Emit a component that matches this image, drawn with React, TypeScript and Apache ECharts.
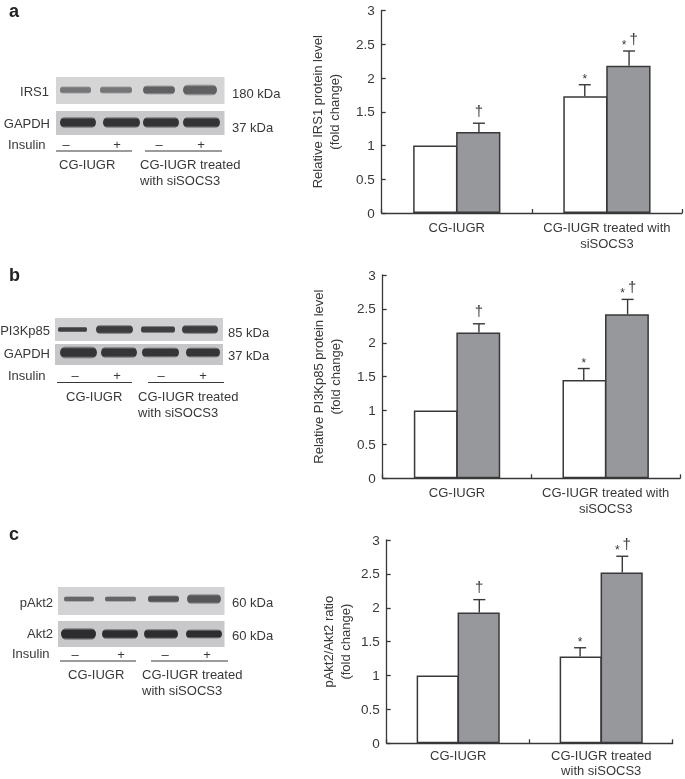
import React, { useEffect, useRef } from "react";
import * as echarts from "echarts";

const categoriesAB = ["CG-IUGR", "CG-IUGR treated with\nsiSOCS3"];
const categoriesC = ["CG-IUGR", "CG-IUGR treated\nwith siSOCS3"];
const yTicks = [0, 0.5, 1, 1.5, 2, 2.5, 3];

const noInsulinA = [1, 1.73];
const insulinA = [1.2, 2.18];
const noInsulinErrA = [0, 0.17];
const insulinErrA = [0.13, 0.22];

const noInsulinB = [1, 1.45];
const insulinB = [2.15, 2.42];
const noInsulinErrB = [0, 0.17];
const insulinErrB = [0.13, 0.22];

const noInsulinC = [1, 1.28];
const insulinC = [1.93, 2.52];
const noInsulinErrC = [0, 0.13];
const insulinErrC = [0.19, 0.24];

const noInsulinMarks = [[], ["*"]];
const insulinMarks = [["†"], ["*", "†"]];

const yNameA = "Relative IRS1 protein level\n(fold change)";
const yNameB = "Relative PI3Kp85 protein level\n(fold change)";
const yNameC = "pAkt2/Akt2 ratio\n(fold change)";

const FONT = "Liberation Sans, Arial, sans-serif";
const INK = "#38383a";
const GRAY = "#97989c";
const BAR_FRACTION = 0.295;

type Panel = {
  rect: { left: number; top: number; right: number; bottom: number };
  categories: string[];
  white: number[];
  gray: number[];
  whiteErr: number[];
  grayErr: number[];
  yName: string;
  nameGap: number;
  labelMargin: number;
  labelLine: number;
};

const W = 685;
const H = 779;

const panels: Panel[] = [
  { rect: { left: 381.7, top: 10.5, right: 682, bottom: 213 }, categories: categoriesAB, white: noInsulinA, gray: insulinA, whiteErr: noInsulinErrA, grayErr: insulinErrA, yName: yNameA, nameGap: 39, labelMargin: 6, labelLine: 16 },
  { rect: { left: 382.7, top: 275, right: 680, bottom: 478.3 }, categories: categoriesAB, white: noInsulinB, gray: insulinB, whiteErr: noInsulinErrB, grayErr: insulinErrB, yName: yNameB, nameGap: 39, labelMargin: 6, labelLine: 16 },
  { rect: { left: 386.7, top: 540, right: 672.7, bottom: 743.3 }, categories: categoriesC, white: noInsulinC, gray: insulinC, whiteErr: noInsulinErrC, grayErr: insulinErrC, yName: yNameC, nameGap: 33, labelMargin: 5, labelLine: 15 },
];

function errorSeries(gi: number, values: number[], errs: number[], marks: string[][], sign: number) {
  return {
    type: "custom",
    xAxisIndex: gi,
    yAxisIndex: gi,
    silent: true,
    z: 5,
    data: values.map((v, i) => [i, v, errs[i]]),
    renderItem: (params: any, api: any) => {
      const i = api.value(0);
      const v = api.value(1);
      const e = api.value(2);
      const band = api.size([1, 0])[0];
      const base = api.coord([i, v]);
      const top = api.coord([i, v + e]);
      const x = base[0] + (sign * band * BAR_FRACTION) / 2;
      const children: any[] = [];
      const lineStyle = { stroke: INK, lineWidth: 1.4, fill: "none" };
      if (e > 0) {
        children.push({ type: "line", shape: { x1: x, y1: base[1], x2: x, y2: top[1] }, style: lineStyle });
        children.push({ type: "line", shape: { x1: x - 6, y1: top[1], x2: x + 6, y2: top[1] }, style: lineStyle });
      }
      const m = marks[params.dataIndex] || [];
      m.forEach((s) => {
        const dx = m.length > 1 ? (s === "*" ? -5 : 4.5) : 0;
        const dy = s === "*" ? -6 : -13;
        const size = s === "*" ? 12 : 15;
        children.push({
          type: "text",
          x: x + dx,
          y: top[1] + dy,
          style: { text: s, fill: INK, font: `${size}px ${FONT}`, textAlign: "center", textVerticalAlign: "middle" },
        });
      });
      return { type: "group", children };
    },
  };
}

// ---- western-blot drawing ----
type Blot = {
  box: [number, number, number, number];
  bg: string;
  cy: number;
  bands: [number, number, number, string][];
};

const blots: Blot[] = [
  { box: [56, 77, 224.5, 104], bg: "#d5d5d6", cy: 90, bands: [[60, 91, 8, "#767678"], [100, 132, 8, "#767678"], [143, 175, 10, "#606062"], [183, 217, 12, "#606062"]] },
  { box: [56, 111, 224.5, 135], bg: "#c8c8ca", cy: 122.5, bands: [[60, 96, 12, "#333335"], [103, 140, 12, "#333335"], [143, 179, 12, "#333335"], [183, 220, 12, "#333335"]] },
  { box: [55, 318, 223, 341], bg: "#d0d0d2", cy: 329.5, bands: [[58, 87, 6, "#3f3f41"], [96, 133, 10, "#3c3c3e"], [141, 175, 8, "#3f3f41"], [182, 218, 10, "#3c3c3e"]] },
  { box: [55, 344, 223, 365], bg: "#c6c6c8", cy: 352.5, bands: [[60, 97, 13, "#353537"], [101, 137, 12, "#353537"], [142, 179, 11, "#353537"], [186, 220, 11, "#353537"]] },
  { box: [58, 587, 224.5, 615], bg: "#d3d3d5", cy: 599, bands: [[64, 94, 6, "#666668"], [105, 136, 6, "#666668"], [148, 179, 8, "#535355"], [187, 221, 11, "#565658"]] },
  { box: [58, 621, 224.5, 647], bg: "#c8c8ca", cy: 634, bands: [[61, 96, 13, "#2d2d2f"], [102, 138, 11, "#2d2d2f"], [144, 178, 11, "#2d2d2f"], [186, 222, 10, "#2d2d2f"]] },
];

type Lbl = [string, number, number, "left" | "right" | "center"];
const labels: Lbl[] = [
  ["IRS1", 49, 91, "right"], ["GAPDH", 50, 123, "right"], ["180 kDa", 232, 93, "left"], ["37 kDa", 232, 127, "left"],
  ["Insulin", 8, 144, "left"], ["–", 66, 144, "center"], ["+", 117, 144, "center"], ["–", 159, 144, "center"], ["+", 201, 144, "center"],
  ["CG-IUGR", 59, 164, "left"], ["CG-IUGR treated", 140, 164, "left"], ["with siSOCS3", 140, 180, "left"],
  ["PI3Kp85", 50, 330, "right"], ["GAPDH", 50, 353, "right"], ["85 kDa", 228, 332, "left"], ["37 kDa", 228, 355, "left"],
  ["Insulin", 8, 375, "left"], ["–", 75, 375, "center"], ["+", 117, 375, "center"], ["–", 161, 375, "center"], ["+", 203, 375, "center"],
  ["CG-IUGR", 66, 396, "left"], ["CG-IUGR treated", 138, 396, "left"], ["with siSOCS3", 138, 412, "left"],
  ["pAkt2", 53, 602, "right"], ["Akt2", 53, 633, "right"], ["60 kDa", 232, 602, "left"], ["60 kDa", 232, 635, "left"],
  ["Insulin", 12, 653, "left"], ["–", 75, 654, "center"], ["+", 121, 654, "center"], ["–", 165, 654, "center"], ["+", 207, 654, "center"],
  ["CG-IUGR", 68, 674, "left"], ["CG-IUGR treated", 142, 674, "left"], ["with siSOCS3", 142, 690, "left"],
];

const rules: [number, number, number][] = [
  [56, 132, 151], [145, 222, 151], [57, 132, 382.5], [148, 224, 382.5], [60, 136, 661], [151, 228, 661],
];

const panelLetters: [string, number, number][] = [["a", 9, 11], ["b", 9, 275], ["c", 9, 534]];

function blotGraphics() {
  const out: any[] = [];
  blots.forEach((b) => {
    const [x0, y0, x1, y1] = b.box;
    out.push({ type: "rect", shape: { x: x0, y: y0, width: x1 - x0, height: y1 - y0 }, style: { fill: b.bg } });
    b.bands.forEach(([a, c, t, col]) => {
      out.push({
        type: "rect",
        shape: { x: a, y: b.cy - t / 2, width: c - a, height: t, r: t / 2 },
        style: {
          fill: {
            type: "linear",
            x: 0,
            y: 0,
            x2: 0,
            y2: 1,
            colorStops: [
              { offset: 0, color: b.bg },
              { offset: 0.22, color: col },
              { offset: 0.78, color: col },
              { offset: 1, color: b.bg },
            ],
          },
        },
      });
    });
  });
  labels.forEach(([text, x, y, align]) => {
    out.push({ type: "text", x, y, style: { text, fill: INK, font: `13px ${FONT}`, textAlign: align, textVerticalAlign: "middle" } });
  });
  rules.forEach(([a, c, y]) => {
    out.push({ type: "line", shape: { x1: a, y1: y, x2: c, y2: y }, style: { stroke: INK, lineWidth: 1.2 } });
  });
  panelLetters.forEach(([text, x, y]) => {
    out.push({ type: "text", x, y, style: { text, fill: "#222", font: `bold 18px ${FONT}`, textAlign: "left", textVerticalAlign: "middle" } });
  });
  return out;
}

export default function App() {
  const ref = useRef<HTMLDivElement>(null);
  useEffect(() => {
    const chart = echarts.init(ref.current!, undefined, { renderer: "svg" });
    const axisLine = { show: true, onZero: false, lineStyle: { color: INK, width: 1.3 } };
    const axisTick = { show: true, inside: true, length: 4, lineStyle: { color: INK, width: 1.3 } };
    const option: any = {
      animation: false,
      backgroundColor: "#fff",
      grid: panels.map((p) => ({
        left: p.rect.left,
        top: p.rect.top,
        width: p.rect.right - p.rect.left,
        height: p.rect.bottom - p.rect.top,
        containLabel: false,
        outerBoundsMode: "none",
      })),
      xAxis: panels.map((p, i) => ({
        type: "category",
        gridIndex: i,
        data: p.categories,
        axisLine,
        axisTick,
        axisLabel: { color: INK, fontFamily: FONT, fontSize: 13, margin: p.labelMargin, lineHeight: p.labelLine, interval: 0 },
        splitLine: { show: false },
      })),
      yAxis: panels.map((p, i) => ({
        type: "value",
        gridIndex: i,
        min: 0,
        max: 3,
        interval: 0.5,
        axisLine,
        axisTick,
        splitLine: { show: false },
        axisLabel: {
          color: INK,
          fontFamily: FONT,
          fontSize: 13.5,
          margin: 7,
          formatter: (v: number) => (yTicks.includes(v) ? String(v) : ""),
        },
        name: p.yName,
        nameLocation: "middle",
        nameGap: p.nameGap,
        nameRotate: 90,
        nameTextStyle: { color: INK, fontFamily: FONT, fontSize: 13, lineHeight: 17 },
      })),
      series: panels.flatMap((p, i) => [
        {
          type: "bar",
          xAxisIndex: i,
          yAxisIndex: i,
          data: p.white,
          barWidth: `${BAR_FRACTION * 100}%`,
          barGap: "-3%",
          silent: true,
          itemStyle: { color: "#fff", borderColor: INK, borderWidth: 1.5 },
        },
        {
          type: "bar",
          xAxisIndex: i,
          yAxisIndex: i,
          data: p.gray,
          barWidth: `${BAR_FRACTION * 100}%`,
          barGap: "-3%",
          silent: true,
          itemStyle: { color: GRAY, borderColor: INK, borderWidth: 1.5 },
        },
        errorSeries(i, p.white, p.whiteErr, noInsulinMarks, -1),
        errorSeries(i, p.gray, p.grayErr, insulinMarks, 1),
      ]),
      graphic: blotGraphics(),
    };
    chart.setOption(option);
    return () => chart.dispose();
  }, []);
  return <div ref={ref} style={{ position: "absolute", left: 0, top: 0, width: W, height: H, filter: "blur(0.5px)" }} />;
}
